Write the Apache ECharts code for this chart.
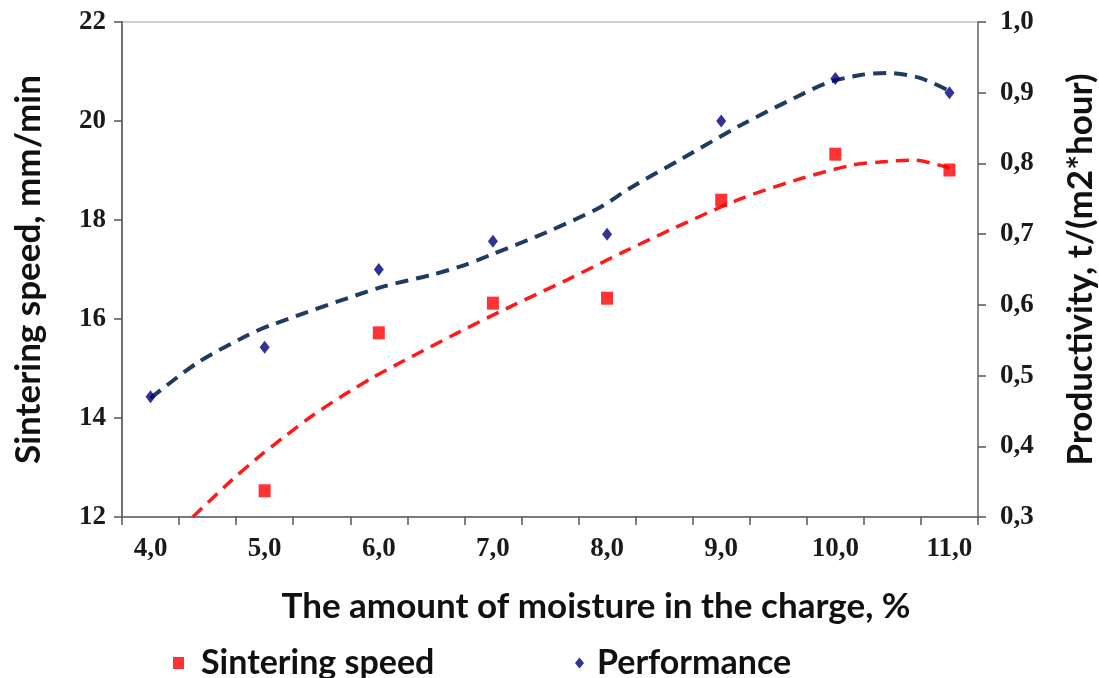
<!DOCTYPE html>
<html>
<head>
<meta charset="utf-8">
<script src="https://cdn.jsdelivr.net/npm/echarts@6/dist/echarts.min.js"></script>
<style>
  html, body { margin: 0; padding: 0; background: #fff; }
  #chart { width: 1099px; height: 678px; }
</style>
</head>
<body>
<div id="chart"></div>
<script>
// measured points
var moisture = [4.0, 5.0, 6.0, 7.0, 8.0, 9.0, 10.0, 11.0];
var sinteringSpeed = [null, 12.53, 15.72, 16.32, 16.42, 18.40, 19.33, 19.01];
var performance = [0.47, 0.54, 0.65, 0.69, 0.70, 0.86, 0.92, 0.90];

// trend curves
var speedTrendX = [4.37, 4.70, 4.93, 5.16, 5.42, 5.69, 5.95, 6.19, 6.69, 7.18, 7.65, 8.14, 8.61, 9.14, 9.66, 10.15, 10.39, 10.68, 11.0];
var speedTrendY = [12.0, 12.72, 13.18, 13.60, 14.05, 14.46, 14.82, 15.12, 15.72, 16.28, 16.79, 17.35, 17.86, 18.40, 18.81, 19.11, 19.17, 19.21, 19.05];
var perfTrendX = [4.0, 4.41, 4.85, 5.05, 6.0, 6.45, 6.71, 6.97, 7.46, 7.94, 8.20, 8.67, 9.17, 9.66, 9.93, 10.22, 10.45, 10.74, 11.03];
var perfTrendY = [0.468, 0.518, 0.557, 0.571, 0.624, 0.642, 0.654, 0.670, 0.702, 0.738, 0.765, 0.808, 0.854, 0.894, 0.914, 0.925, 0.928, 0.921, 0.900];

var xLabelValues = [4, 5, 6, 7, 8, 9, 10, 11];
var xTickValues = [3.75, 4.25, 4.75, 5.25, 5.75, 6.25, 6.75, 7.25, 7.75, 8.25, 8.75, 9.25, 9.75, 10.25, 10.75, 11.25];

function pairs(xs, ys) {
  var out = [];
  for (let i = 0; i < xs.length; i++) {
    if (ys[i] != null) out.push([xs[i], ys[i]]);
  }
  return out;
}
function comma(v) {
  return v.toFixed(1).replace('.', ',');
}

var diamond = 'path://M5,0L10,6L5,12L0,6Z';
var titleFont = { fontFamily: 'Lato', fontWeight: 'bold', fontSize: 35, color: '#111' };
var tickFont = { fontFamily: 'Liberation Serif', fontWeight: 'bold', fontSize: 27, color: '#1a1a1a' };

var chart = echarts.init(document.getElementById('chart'));
var option = {
  animation: false,
  grid: {
    left: 122, right: 121, top: 22, bottom: 161,
    outerBoundsMode: 'none', containLabel: false,
    show: true, borderColor: '#cfcfcf', borderWidth: 2
  },
  legend: [
    {
      data: [{ name: 'Sintering speed', icon: 'rect' }],
      left: 168, top: 641, itemWidth: 11, itemHeight: 12,
      textStyle: { fontFamily: 'Lato', fontWeight: 'bold', fontSize: 34, color: '#111', padding: [0, 0, 0, 12] }
    },
    {
      data: [{ name: 'Performance', icon: diamond }],
      left: 570, top: 641, itemWidth: 9, itemHeight: 11,
      textStyle: { fontFamily: 'Lato', fontWeight: 'bold', fontSize: 34, color: '#111', padding: [0, 0, 0, 8] }
    }
  ],
  xAxis: {
    type: 'value', min: 3.75, max: 11.25,
    name: 'The amount of moisture in the charge, %',
    nameLocation: 'middle', nameGap: 72,
    nameTextStyle: Object.assign({}, titleFont, { padding: [0, 0, 0, 92] }),
    axisLine: { lineStyle: { color: '#7a7a7a', width: 2 } },
    axisTick: { show: true, length: 8, lineStyle: { color: '#555', width: 1.5 }, customValues: xTickValues },
    axisLabel: Object.assign({ margin: 19, customValues: xLabelValues, formatter: comma }, tickFont),
    splitLine: { show: false }
  },
  yAxis: [
    {
      type: 'value', min: 12, max: 22, interval: 2,
      name: 'Sintering speed, mm/min',
      nameLocation: 'middle', nameGap: 76, nameRotate: 90,
      nameTextStyle: titleFont,
      axisLine: { show: true, lineStyle: { color: '#707070', width: 2 } },
      axisTick: { show: true, length: 8, lineStyle: { color: '#555', width: 1.5 } },
      axisLabel: Object.assign({ margin: 16 }, tickFont),
      splitLine: { show: false }
    },
    {
      type: 'value', min: 0.3, max: 1.0, interval: 0.1, position: 'right',
      name: 'Productivity, t/(m2*hour)',
      nameLocation: 'middle', nameGap: 85, nameRotate: 90,
      nameTextStyle: titleFont,
      axisLine: { show: true, lineStyle: { color: '#8a8a8a', width: 2 } },
      axisTick: { show: true, length: 8, lineStyle: { color: '#555', width: 1.5 } },
      axisLabel: Object.assign({ margin: 22, formatter: comma }, tickFont),
      splitLine: { show: false }
    }
  ],
  series: [
    {
      name: 'speed trend', type: 'line', yAxisIndex: 0, smooth: 0.3, showSymbol: false, silent: true,
      lineStyle: { color: '#ff1a1a', width: 3.5, type: [13, 8] },
      data: pairs(speedTrendX, speedTrendY), z: 2
    },
    {
      name: 'performance trend', type: 'line', yAxisIndex: 1, smooth: 0.3, showSymbol: false, silent: true,
      lineStyle: { color: '#1f3b60', width: 4, type: [13, 8] },
      data: pairs(perfTrendX, perfTrendY), z: 2
    },
    {
      name: 'Sintering speed', type: 'scatter', yAxisIndex: 0,
      symbol: 'rect', symbolSize: [12, 13],
      itemStyle: { color: '#ff0000' },
      data: pairs(moisture, sinteringSpeed), z: 5
    },
    {
      name: 'Performance', type: 'scatter', yAxisIndex: 1,
      symbol: diamond, symbolSize: [10, 13],
      itemStyle: { color: '#00007a' },
      data: pairs(moisture, performance), z: 5
    }
  ]
};
chart.setOption(option);
</script>
</body>
</html>
